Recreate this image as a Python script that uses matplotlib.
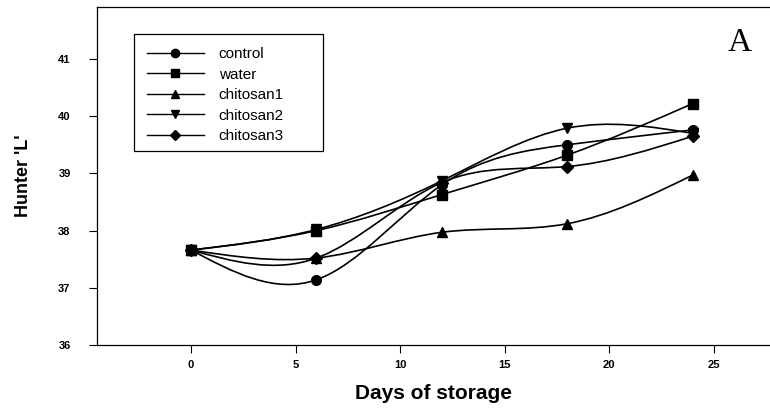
import numpy as np
import matplotlib
matplotlib.use("Agg")
import matplotlib.pyplot as plt
from matplotlib.path import Path
from matplotlib.patches import PathPatch, Rectangle
from matplotlib.lines import Line2D

days = [0, 6, 12, 18, 24]
control = [37.66, 37.14, 38.80, 39.50, 39.76]
water = [37.66, 38.00, 38.63, 39.32, 40.22]
chitosan1 = [37.66, 37.52, 37.97, 38.12, 38.97]
chitosan2 = [37.66, 38.02, 38.87, 39.79, 39.70]
chitosan3 = [37.66, 37.52, 38.84, 39.12, 39.65]
labels = ["control", "water", "chitosan1", "chitosan2", "chitosan3"]
series = [control, water, chitosan1, chitosan2, chitosan3]
markers = ["o", "s", "^", "v", "D"]
msizes = [7, 6.5, 6.5, 6.5, 6]
xticks = [0, 5, 10, 15, 20, 25]
yticks = [36, 37, 38, 39, 40, 41]

plt.rcParams['font.family'] = ['Liberation Sans', 'DejaVu Sans']

fig = plt.figure(figsize=(7.7, 4.11), dpi=100)
ax = fig.add_axes([0.126, 0.1606, 0.874, 0.8212])


def spline_path(x, y):
    x = np.asarray(x, float)
    y = np.asarray(y, float)
    n = len(x)
    h = np.diff(x)
    A = np.zeros((n, n))
    b = np.zeros(n)
    A[0, 0] = 1
    A[-1, -1] = 1
    for i in range(1, n - 1):
        A[i, i - 1] = h[i - 1]
        A[i, i] = 2 * (h[i - 1] + h[i])
        A[i, i + 1] = h[i]
        b[i] = 6 * ((y[i + 1] - y[i]) / h[i] - (y[i] - y[i - 1]) / h[i - 1])
    M = np.linalg.solve(A, b)
    verts = [(x[0], y[0])]
    codes = [Path.MOVETO]
    for i in range(n - 1):
        s = (y[i + 1] - y[i]) / h[i]
        d0 = s - h[i] * (2 * M[i] + M[i + 1]) / 6
        d1 = s + h[i] * (M[i] + 2 * M[i + 1]) / 6
        verts += [(x[i] + h[i] / 3, y[i] + d0 * h[i] / 3),
                  (x[i + 1] - h[i] / 3, y[i + 1] - d1 * h[i] / 3),
                  (x[i + 1], y[i + 1])]
        codes += [Path.CURVE4] * 3
    return Path(verts, codes)


handles = []
for vals, lab, mk, ms in zip(series, labels, markers, msizes):
    ax.add_patch(PathPatch(spline_path(days, vals), fill=False, edgecolor='black',
                           lw=1.2, transform=ax.transData, zorder=2))
    ax.plot(days, vals, linestyle='none', marker=mk, color='black', ms=ms, zorder=3)
    handles.append(Line2D([0], [0], color='black', lw=1.0, marker=mk, ms=ms - 1))

ax.set_xlim(-4.5, 27.7)
ax.set_ylim(36, 41.9)
ax.set_xticks(xticks)
ax.set_yticks(yticks)
ax.tick_params(direction='out', length=6, width=0.8, labelsize=8)
ax.tick_params(axis='x', pad=5)
ax.tick_params(axis='y', pad=13)
for t in ax.get_xticklabels() + ax.get_yticklabels():
    t.set_fontweight('bold')
ax.spines['right'].set_visible(False)
for s in ['left', 'top', 'bottom']:
    ax.spines[s].set_linewidth(0.9)

ax.set_xlabel("Days of storage", fontsize=15, fontweight='bold', labelpad=10)
ax.set_ylabel("Hunter 'L'", fontsize=13, fontweight='bold', labelpad=19)

leg = ax.legend(handles, labels, loc='upper left', bbox_to_anchor=(0.055, 0.921),
                borderaxespad=0, frameon=False, handlelength=3.7,
                fontsize=11, labelspacing=0.43, handletextpad=1.0,
                borderpad=0.85)
ax.add_patch(Rectangle((0.055, 0.5748), 0.2808, 0.3467, transform=ax.transAxes,
                       fill=False, edgecolor='black', lw=0.9, zorder=5))

ax.text(0.955, 0.895, "A", transform=ax.transAxes, fontsize=24,
        family=['Liberation Serif', 'DejaVu Serif'], ha='center', va='center')

fig.savefig("out.png", dpi=100)
